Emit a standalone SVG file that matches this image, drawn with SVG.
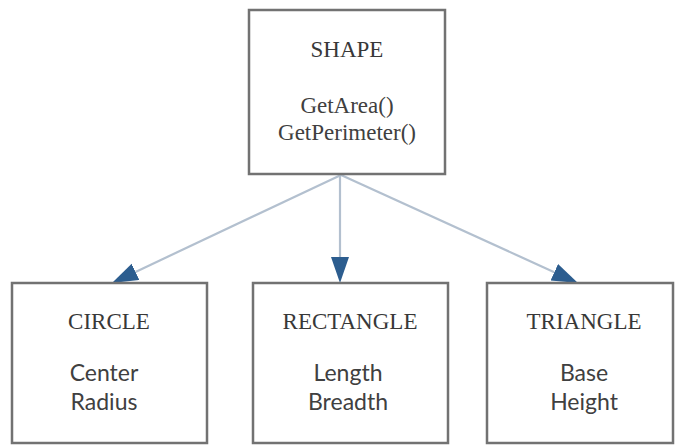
<svg xmlns="http://www.w3.org/2000/svg" width="675" height="446" viewBox="0 0 675 446">
  <style>
    .box { fill: #ffffff; stroke: #727272; stroke-width: 2.5; }
    .title { font-family: "Liberation Serif", "DejaVu Serif", serif; font-size: 23px; fill: #383838; text-anchor: middle; }
    .method { font-family: "Liberation Serif", "DejaVu Serif", serif; font-size: 23px; fill: #404040; text-anchor: middle; }
    .field { font-family: Lato, "Noto Sans", sans-serif; font-size: 23px; fill: #404040; text-anchor: middle; }
    .edge { fill: none; stroke: #b3c0cf; stroke-width: 2.2; }
  </style>
  <defs>
    <!-- filled arrowhead; the line ends at its base -->
    <marker id="head" markerUnits="userSpaceOnUse" markerWidth="28" markerHeight="20" refX="0" refY="9" orient="auto">
      <path d="M0,0 L26,9 L0,18 z" fill="#2c5d8f"/>
    </marker>
  </defs>

  <rect width="675" height="446" fill="#ffffff"/>

  <!-- inheritance arrows from the base class to each subclass -->
  <g id="connectors">
    <line class="edge" x1="341" y1="175" x2="135.5" y2="271.9" marker-end="url(#head)"/>
    <line class="edge" x1="340" y1="175" x2="340" y2="257" marker-end="url(#head)"/>
    <line class="edge" x1="341" y1="175" x2="554.3" y2="272.2" marker-end="url(#head)"/>
  </g>

  <g id="shape">
    <rect class="box" x="249" y="10" width="196" height="164"/>
    <text class="title" x="347" y="57">SHAPE</text>
    <text class="method" x="347" y="113">GetArea()</text>
    <text class="method" x="347" y="140">GetPerimeter()</text>
  </g>

  <g id="circle">
    <rect class="box" x="12" y="283" width="195" height="160"/>
    <text class="title" x="109" y="329">CIRCLE</text>
    <text class="field" x="104" y="381">Center</text>
    <text class="field" x="104" y="410">Radius</text>
  </g>

  <g id="rectangle">
    <rect class="box" x="253" y="283" width="195" height="160"/>
    <text class="title" x="350" y="329">RECTANGLE</text>
    <text class="field" x="348" y="381">Length</text>
    <text class="field" x="348" y="410">Breadth</text>
  </g>

  <g id="triangle">
    <rect class="box" x="487" y="283" width="186" height="160"/>
    <text class="title" x="584" y="329">TRIANGLE</text>
    <text class="field" x="584" y="381">Base</text>
    <text class="field" x="584" y="410">Height</text>
  </g>
</svg>
